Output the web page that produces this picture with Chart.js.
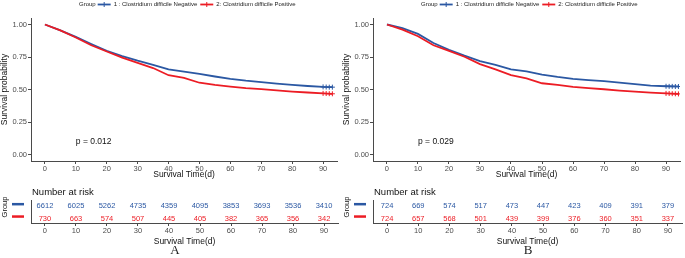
<!DOCTYPE html>
<html lang="en">
<head>
<meta charset="UTF-8">
<title>Survival curves by Clostridium difficile status</title>
<script src="https://cdn.jsdelivr.net/npm/chart.js@4"></script>
<style>
  body { margin: 0; background: #fff; }
  #wrap { position: relative; width: 685px; height: 258px; overflow: hidden; }
  .panel { position: absolute; top: 0; height: 258px; }
  .panel canvas { position: absolute; left: 0; }
  .tag { position: absolute; top: 243px; font-family: "Liberation Serif", serif; font-size: 13px; line-height: 14px; transform: translateX(-50%); color: #222; }
</style>
</head>
<body>
<div id="wrap">
  <div class="panel" style="left:0;width:342px">
    <canvas id="kmA" width="342" height="182" style="top:0"></canvas>
    <canvas id="riskA" width="342" height="66" style="top:182px"></canvas>
    <div class="tag" style="left:175px">A</div>
  </div>
  <div class="panel" style="left:342px;width:343px">
    <canvas id="kmB" width="343" height="182" style="top:0"></canvas>
    <canvas id="riskB" width="343" height="66" style="top:182px"></canvas>
    <div class="tag" style="left:186px">B</div>
  </div>
</div>

<script>
  const blue = '#2b58a3';
  const red = '#ec1c24';
  const groupLabels = ['1 : Clostridium difficile Negative', '2: Clostridium difficile Positive'];
  const xTicks = [0, 10, 20, 30, 40, 50, 60, 70, 80, 90];
  const yTicks = [0, 0.25, 0.5, 0.75, 1];

  // panel A
  const timesA = [0, 5, 10, 15, 20, 25, 30, 35, 40, 45, 50, 55, 60, 65, 70, 75, 80, 85, 90, 93];
  const survNegA = [1.0, 0.955, 0.905, 0.85, 0.797, 0.757, 0.722, 0.69, 0.655, 0.638, 0.62, 0.60, 0.582, 0.568, 0.557, 0.545, 0.535, 0.527, 0.52, 0.518];
  const survPosA = [1.0, 0.955, 0.90, 0.84, 0.792, 0.745, 0.705, 0.665, 0.61, 0.59, 0.552, 0.535, 0.522, 0.51, 0.503, 0.493, 0.484, 0.477, 0.47, 0.467];
  const censorTimesA = [90, 91, 92, 93];
  const censorNegA = [0.52, 0.519, 0.518, 0.518];
  const censorPosA = [0.47, 0.469, 0.468, 0.467];
  const riskNegA = [6612, 6025, 5262, 4735, 4359, 4095, 3853, 3693, 3536, 3410];
  const riskPosA = [730, 663, 574, 507, 445, 405, 382, 365, 356, 342];
  const pValueA = 'p = 0.012';

  // panel B
  const timesB = [0, 5, 10, 15, 20, 25, 30, 35, 40, 45, 50, 55, 60, 65, 70, 75, 80, 85, 90, 94];
  const survNegB = [1.0, 0.972, 0.928, 0.858, 0.805, 0.76, 0.718, 0.69, 0.655, 0.64, 0.615, 0.597, 0.582, 0.572, 0.564, 0.553, 0.542, 0.53, 0.525, 0.523];
  const survPosB = [1.0, 0.96, 0.91, 0.84, 0.797, 0.752, 0.695, 0.655, 0.61, 0.585, 0.548, 0.535, 0.52, 0.51, 0.502, 0.492, 0.484, 0.476, 0.47, 0.466];
  const censorTimesB = [90, 91, 92, 93, 94];
  const censorNegB = [0.525, 0.524, 0.524, 0.523, 0.523];
  const censorPosB = [0.47, 0.469, 0.468, 0.467, 0.466];
  const riskNegB = [724, 669, 574, 517, 473, 447, 423, 409, 391, 379];
  const riskPosB = [724, 657, 568, 501, 439, 399, 376, 360, 351, 337];
  const pValueB = 'p = 0.029';

  Chart.defaults.font.family = '"Liberation Sans", Arial, sans-serif';
  Chart.defaults.animation = false;

  const axisColor = '#4a4a4a';
  const tickColor = '#4d4d4d';

  const toPts = (xs, ys) => xs.map((x, i) => ({ x: x, y: ys[i] }));

  const kmExtras = {
    id: 'kmExtras',
    afterDraw(chart, args, opts) {
      const ctx = chart.ctx;
      const xs = chart.scales.x, ys = chart.scales.y;
      ctx.save();
      // p value
      ctx.font = '8.5px "Liberation Sans", Arial, sans-serif';
      ctx.fillStyle = '#111';
      ctx.textBaseline = 'middle';
      ctx.fillText(opts.pText, xs.getPixelForValue(10), ys.getPixelForValue(0.095));
      // legend row
      ctx.font = '6px "Liberation Sans", Arial, sans-serif';
      let x = 79;
      const y = 4.5;
      ctx.fillStyle = '#222';
      ctx.fillText('Group', x, y);
      x += ctx.measureText('Group').width + 2;
      [blue, red].forEach((c, i) => {
        ctx.strokeStyle = c;
        ctx.lineWidth = 1.8;
        ctx.beginPath(); ctx.moveTo(x, y); ctx.lineTo(x + 13, y); ctx.stroke();
        ctx.lineWidth = 1;
        ctx.beginPath(); ctx.moveTo(x + 6.5, y - 2.5); ctx.lineTo(x + 6.5, y + 2.5); ctx.stroke();
        x += 16;
        ctx.fillStyle = '#222';
        ctx.fillText(groupLabels[i], x, y);
        x += ctx.measureText(groupLabels[i]).width + 3;
      });
      ctx.restore();
    }
  };

  function makeKM(id, times, neg, pos, cTimes, cNeg, cPos, pText, padRight) {
    new Chart(document.getElementById(id), {
      type: 'line',
      data: {
        datasets: [
          { data: toPts(times, pos), borderColor: red, borderWidth: 1.8, pointRadius: 0, tension: 0, order: 0 },
          { data: toPts(times, neg), borderColor: blue, borderWidth: 1.8, pointRadius: 0, tension: 0, order: 1 },
          { type: 'scatter', data: toPts(cTimes, cPos), borderColor: red, pointStyle: 'cross', pointRadius: 2.5, borderWidth: 1, order: 0 },
          { type: 'scatter', data: toPts(cTimes, cNeg), borderColor: blue, pointStyle: 'cross', pointRadius: 2.5, borderWidth: 1, order: 1 }
        ]
      },
      options: {
        responsive: false,
        layout: { padding: { top: 18, right: padRight, left: 0, bottom: 0 } },
        plugins: { legend: { display: false }, tooltip: { enabled: false }, kmExtras: { pText: pText } },
        scales: {
          x: {
            type: 'linear', min: -4.5, max: 94.5,
            afterBuildTicks: s => { s.ticks = xTicks.map(v => ({ value: v })); },
            afterFit: s => { s.height = 21; },
            ticks: { font: { size: 7.5 }, color: tickColor, padding: 0, maxRotation: 0 },
            grid: { drawOnChartArea: false, tickLength: 3, color: axisColor },
            border: { color: axisColor },
            title: { display: true, text: 'Survival Time(d)', font: { size: 8.5 }, color: '#111', padding: { top: 0, bottom: 2 } }
          },
          y: {
            min: -0.05, max: 1.05,
            afterBuildTicks: s => { s.ticks = yTicks.map(v => ({ value: v })); },
            afterFit: s => { s.width = 31; },
            ticks: { font: { size: 7.5 }, color: tickColor, padding: 1, callback: v => v.toFixed(2) },
            grid: { drawOnChartArea: false, tickLength: 3, color: axisColor },
            border: { color: axisColor },
            title: { display: true, text: 'Survival probability', font: { size: 8.5 }, color: '#111', padding: { top: 0, bottom: 0 } }
          }
        }
      },
      plugins: [kmExtras]
    });
  }

  const riskExtras = {
    id: 'riskExtras',
    afterDatasetsDraw(chart, args, opts) {
      const ctx = chart.ctx;
      const area = chart.chartArea;
      ctx.save();
      ctx.font = '9.5px "Liberation Sans", Arial, sans-serif';
      ctx.fillStyle = '#111';
      ctx.textBaseline = 'middle';
      ctx.fillText('Number at risk', area.left + 1, 10);
      ctx.font = '7.5px "Liberation Sans", Arial, sans-serif';
      ctx.textAlign = 'center';
      chart.data.datasets.forEach((ds, di) => {
        const meta = chart.getDatasetMeta(di);
        ctx.fillStyle = ds.borderColor;
        meta.data.forEach((pt, i) => ctx.fillText(String(ds.counts[i]), pt.x, pt.y));
        // colour key on the group axis
        const yk = chart.scales.y.getPixelForValue(ds.data[0].y) - 2;
        ctx.strokeStyle = ds.borderColor;
        ctx.lineWidth = 2.5;
        ctx.beginPath(); ctx.moveTo(12, yk); ctx.lineTo(24, yk); ctx.stroke();
      });
      ctx.translate(5, 25);
      ctx.rotate(-Math.PI / 2);
      ctx.fillStyle = '#111';
      ctx.font = '7.5px "Liberation Sans", Arial, sans-serif';
      ctx.fillText('Group', 0, 0);
      ctx.restore();
    }
  };

  function makeRisk(id, neg, pos, padRight) {
    new Chart(document.getElementById(id), {
      type: 'scatter',
      data: {
        datasets: [
          { data: xTicks.map(t => ({ x: t, y: 2 })), counts: neg, borderColor: blue, pointRadius: 0 },
          { data: xTicks.map(t => ({ x: t, y: 1 })), counts: pos, borderColor: red, pointRadius: 0 }
        ]
      },
      options: {
        responsive: false,
        layout: { padding: { top: 18, right: padRight, left: 0, bottom: 0 } },
        plugins: { legend: { display: false }, tooltip: { enabled: false } },
        scales: {
          x: {
            type: 'linear', min: -4.5, max: 94.5,
            afterBuildTicks: s => { s.ticks = xTicks.map(v => ({ value: v })); },
            afterFit: s => { s.height = 25; },
            ticks: { font: { size: 7.5 }, color: tickColor, padding: 0, maxRotation: 0 },
            grid: { drawOnChartArea: false, tickLength: 3, color: axisColor },
            border: { color: axisColor },
            title: { display: true, text: 'Survival Time(d)', font: { size: 8.5 }, color: '#111', padding: { top: 0, bottom: 1 } }
          },
          y: {
            min: 0.64, max: 2.5,
            afterFit: s => { s.width = 31; },
            ticks: { display: false },
            grid: { display: false },
            border: { color: axisColor }
          }
        }
      },
      plugins: [riskExtras]
    });
  }

  makeKM('kmA', timesA, survNegA, survPosA, censorTimesA, censorNegA, censorPosA, pValueA, 4);
  makeRisk('riskA', riskNegA, riskPosA, 4);
  makeKM('kmB', timesB, survNegB, survPosB, censorTimesB, censorNegB, censorPosB, pValueB, 3);
  makeRisk('riskB', riskNegB, riskPosB, 3);
</script>
</body>
</html>
